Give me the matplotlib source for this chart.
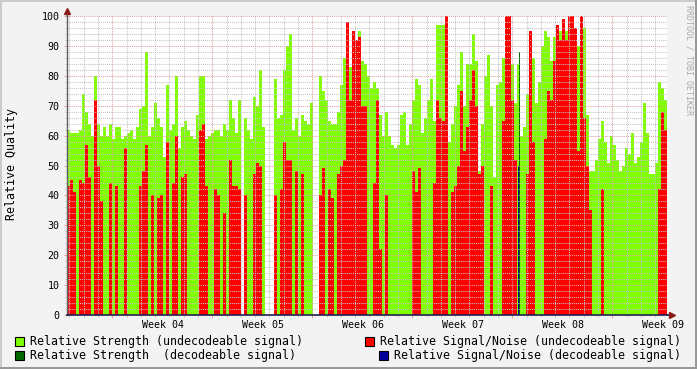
import numpy as np
import matplotlib.pyplot as plt
from matplotlib.patches import Rectangle

nan = np.nan

# one value every ~5 hours (0.21 day), six weeks of data
strength = [62, 61, 61, 61, 62, 74, 68, 64, 60, 80,
            64, 60, 63, 60, 64, 59, 63, 63, 59, 60,
            61, 62, 59, 63, 69, 70, 88, 60, 63, 71,
            66, 63, 53, 77, 62, 64, 80, 56, 63, 65,
            62, 60, 59, 67, 80, 80, 59, 60, 61, 62,
            62, 60, 64, 62, 72, 66, 61, 72, nan, 66,
            62, 59, 73, 70, 82, 63, nan, nan, nan, 79,
            66, 67, 82, 90, 94, 62, 66, 60, 67, 65,
            64, 71, nan, nan, 80, 75, 72, 65, 64, 64,
            68, 77, 86, 83, 83, 95, 88, 95, 85, 84,
            80, 76, 78, 76, 67, 60, 68, 60, 57, 56,
            57, 67, 68, 57, 64, 72, 79, 77, 61, 66,
            72, 79, 65, 97, 97, 97, 60, 58, 64, 70,
            77, 88, 70, 84, 84, 94, 85, 48, 64, 80,
            87, 70, 46, 77, 78, 86, 96, 96, 84, 71,
            84, 60, 63, 74, 81, 86, 71, 78, 90, 95,
            93, 85, 93, 95, 95, 95, 95, 96, 96, 96,
            90, 96, 96, 67, 48, 48, 52, 59, 65, 58,
            51, 60, 57, 52, 48, 50, 56, 54, 61, 51,
            53, 58, 71, 61, 47, 47, 51, 78, 76, 72]

snr = [43, 45, 41, 0, 45, 44, 57, 46, 0, 72,
       50, 38, 0, 0, 44, 0, 43, 0, 0, 56,
       0, 0, 0, 0, 43, 48, 57, 0, 40, 0,
       39, 40, 0, 58, 0, 44, 60, 0, 46, 47,
       0, 0, 0, 0, 62, 64, 43, 0, 0, 42,
       40, 0, 34, 0, 52, 43, 43, 42, nan, 40,
       0, 0, 47, 51, 50, 0, nan, nan, nan, 40,
       0, 42, 58, 52, 52, 0, 48, 0, 47, 0,
       0, 0, nan, nan, 40, 49, 0, 42, 39, 0,
       47, 50, 52, 98, 72, 95, 92, 93, 70, 70,
       0, 0, 44, 72, 22, 0, 40, 0, 0, 0,
       0, 0, 0, 0, 0, 48, 41, 49, 0, 0,
       0, 0, 44, 72, 66, 65, 100, 0, 41, 43,
       50, 75, 55, 63, 72, 82, 70, 47, 50, 0,
       0, 43, 0, 0, 0, 65, 100, 100, 72, 52,
       0, 0, 0, 47, 95, 58, 0, 0, 0, 59,
       75, 72, 85, 97, 92, 99, 92, 100, 100, 96,
       55, 100, 66, 50, 35, 0, 0, 0, 42, 0,
       0, 0, 0, 0, 0, 0, 0, 0, 0, 0,
       0, 0, 0, 0, 0, 0, 0, 42, 68, 62]

# decodeable samples are rare
dec_idx = [150]
dec_strength = [88]
dec_snr = [50]

week_labels = ["Week 04", "Week 05", "Week 06", "Week 07", "Week 08", "Week 09"]
week_days = [6.72, 13.72, 20.72, 27.72, 34.72, 41.72]

step = 0.21
W, H = 697, 369

plt.rcParams['font.family'] = 'DejaVu Sans Mono'

fig = plt.figure(figsize=(W / 100, H / 100), dpi=100, facecolor='#f3f3f3')
ax = fig.add_axes([67 / W, (H - 315) / H, 600 / W, 299 / H])
ax.set_facecolor('white')

x = np.arange(len(strength)) * step
ax.bar(x, strength, width=step, align='edge', color='#80ff00', linewidth=0,
       antialiased=False, zorder=1)
ax.bar(x, snr, width=step, align='edge', color='#ff0000', linewidth=0,
       antialiased=False, zorder=1.2)
xd = x[dec_idx]
ax.bar(xd + step * 2 / 3, dec_strength, width=step / 3, align='edge', color='#006600',
       linewidth=0, antialiased=False, zorder=1.3)
ax.bar(xd + step / 3, dec_snr, width=step / 3, align='edge', color='#000099',
       linewidth=0, antialiased=False, zorder=1.4)

ax.set_xlim(0, 42)
ax.set_ylim(0, 100)

# rrdtool-like dotted grid drawn over the data
dots = (0, (1, 1))
for v in range(2, 101, 2):
    if v % 10:
        ax.axhline(v, color='#c4c4c4', lw=0.75, ls=dots, zorder=3)
for v in range(10, 101, 10):
    ax.axhline(v, color='#e2a0a0', lw=0.75, ls=dots, zorder=3.1)
major_days = np.arange(3.17, 42, 7)
minor_days = [d for d in np.arange(0.17, 42, 1) if (round(d - 3.17) % 7)]
for d in minor_days:
    ax.axvline(d, color='#c4c4c4', lw=0.75, ls=dots, zorder=3)
for d in major_days:
    ax.axvline(d, color='#e2a0a0', lw=0.75, ls=dots, zorder=3.1)

ax.set_yticks(range(0, 101, 10))
ax.set_yticks(range(0, 101, 2), minor=True)
ax.set_xticks(major_days, [''] * len(major_days))
ax.set_xticks(minor_days, minor=True)
ax.tick_params(axis='y', which='major', length=2.5, width=0.7, color='#e2a0a0',
               labelsize=7.2, pad=3)
ax.tick_params(axis='y', which='minor', length=1.5, width=0.7, color='#c4c4c4')
ax.tick_params(axis='x', which='major', length=2.5, width=0.7, color='#e2a0a0')
ax.tick_params(axis='x', which='minor', length=1.5, width=0.7, color='#c4c4c4')

for lab, d in zip(week_labels, week_days):
    ax.text(d, -10 / 299, lab, transform=ax.get_xaxis_transform(), ha='center',
            va='center', fontsize=7.2)

for s in ['top', 'right']:
    ax.spines[s].set_visible(False)
ax.spines['left'].set_color('#606060')
ax.spines['left'].set_linewidth(1)
ax.spines['bottom'].set_color('#202050')
ax.spines['bottom'].set_linewidth(1.2)
ax.spines['left'].set_zorder(4)
ax.spines['bottom'].set_zorder(4)

# axis extensions with arrows
ax.plot([0, 0], [1, 1 + 4 / 299], transform=ax.transAxes, color='#606060', lw=1,
        clip_on=False, zorder=4)
ax.plot([0], [1 + 5 / 299], transform=ax.transAxes, marker='^', ms=4.5, color='#8b1a1a',
        clip_on=False, zorder=5, mec='#8b1a1a')
ax.plot([1, 1 + 2 / 600], [0, 0], transform=ax.transAxes, color='#202050', lw=1.2,
        clip_on=False, zorder=4)
ax.plot([1 + 5 / 600], [0], transform=ax.transAxes, marker='>', ms=4.5, color='#8b1a1a',
        clip_on=False, zorder=5, mec='#8b1a1a')

fig.text(12 / W, 1 - 164 / H, 'Relative Quality', rotation=90, ha='center', va='center',
         fontsize=8.4)
fig.text(689 / W, 1 - 60 / H, 'RRDTOOL / TOBI OETIKER', rotation=270, ha='center',
         va='center', fontsize=6, color='#aaaaaa')

legend = [
    (15, 337, '#80ff00', 30, 'Relative Strength (undecodeable signal)'),
    (15, 351, '#006600', 30, 'Relative Strength  (decodeable signal)'),
    (365, 337, '#ff0000', 380, 'Relative Signal/Noise (undecodeable signal)'),
    (379, 351, '#000099', 394, 'Relative Signal/Noise (decodeable signal)'),
]
for bx, by, col, tx, lab in legend:
    fig.patches.append(Rectangle((bx / W, 1 - (by + 9) / H), 9 / W, 9 / H,
                                 transform=fig.transFigure, facecolor=col,
                                 edgecolor='black', linewidth=0.8))
    fig.text(tx / W, 1 - (by + 4.5) / H, lab, ha='left', va='center', fontsize=8.4)

# 3d-ish frame of the image
fig.patches.append(Rectangle((0, 1 - 2 / H), 1, 2 / H, transform=fig.transFigure,
                             color='#cbcbcb', lw=0))
fig.patches.append(Rectangle((0, 0), 2 / W, 1, transform=fig.transFigure,
                             color='#cbcbcb', lw=0))
fig.patches.append(Rectangle((0, 0), 1, 2 / H, transform=fig.transFigure,
                             color='#999999', lw=0))
fig.patches.append(Rectangle((1 - 2 / W, 0), 2 / W, 1, transform=fig.transFigure,
                             color='#999999', lw=0))

fig.savefig('out.png', dpi=100, facecolor=fig.get_facecolor())
